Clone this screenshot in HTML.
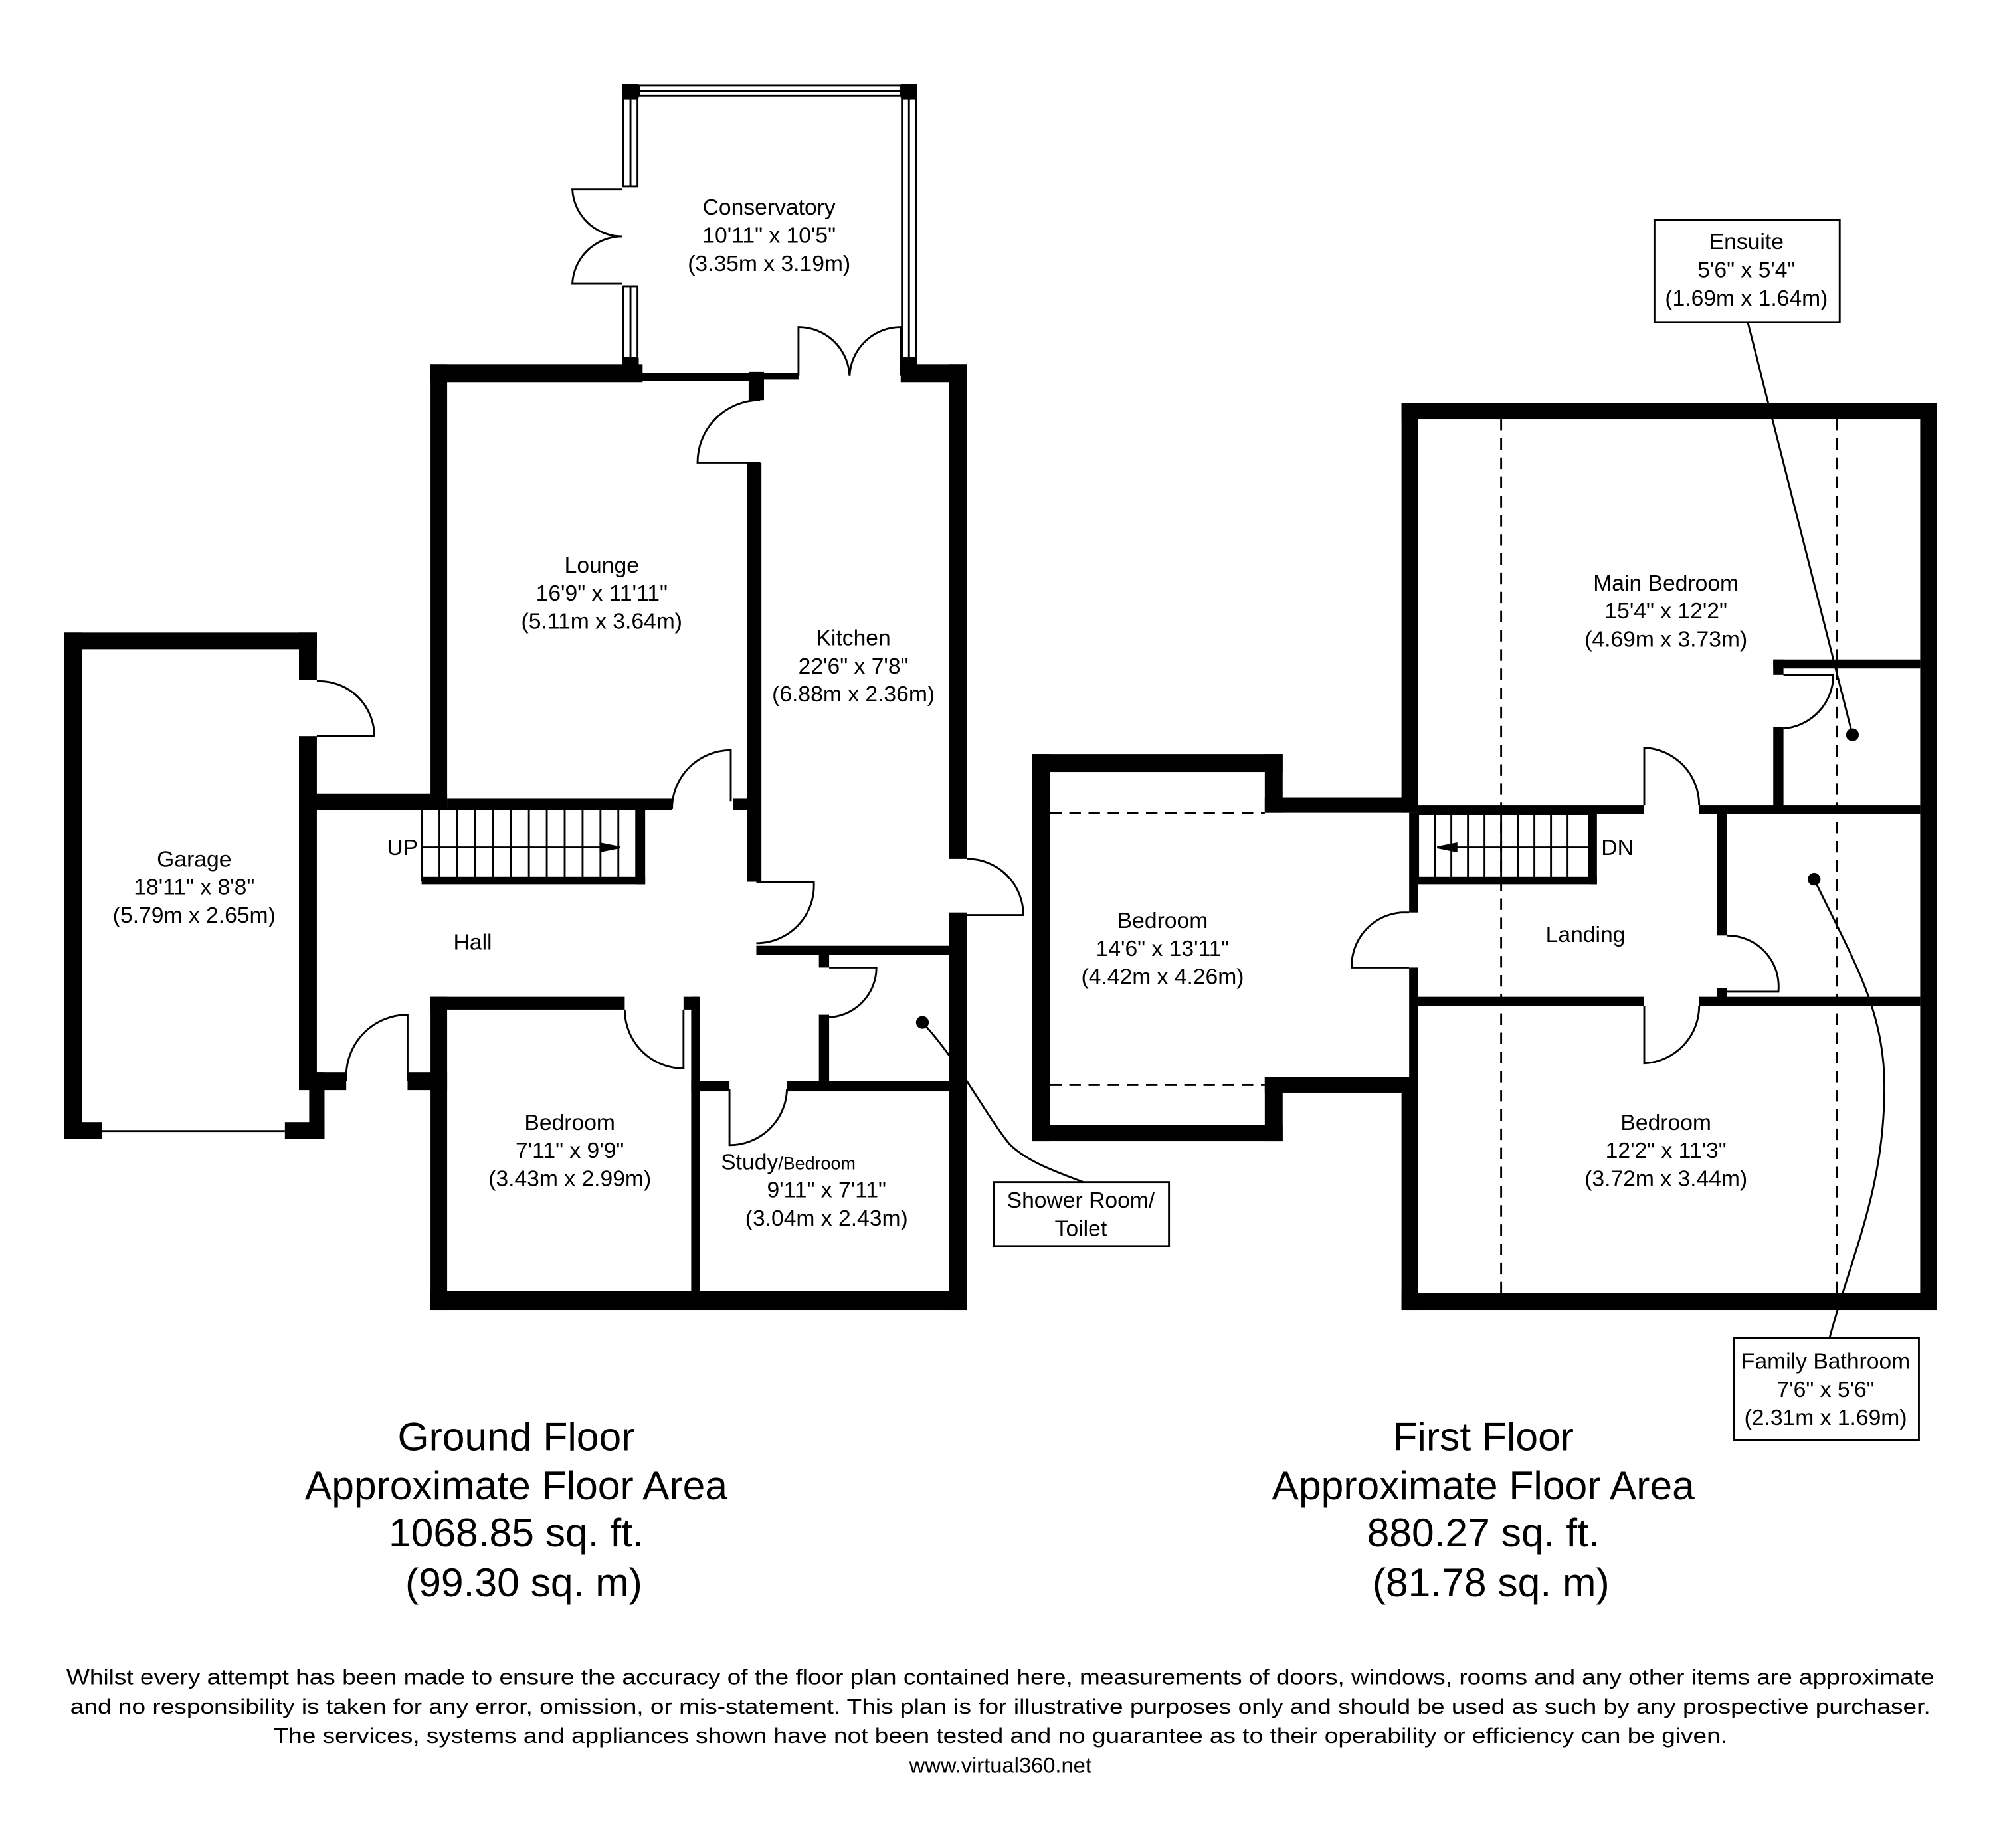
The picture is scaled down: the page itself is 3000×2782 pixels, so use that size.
<!DOCTYPE html>
<html><head><meta charset="utf-8"><style>
html,body{margin:0;padding:0;background:#fff;}
svg{display:block;}
text{font-family:"Liberation Sans",Arial,sans-serif;fill:#000;}
</style></head><body>
<svg width="3000" height="2782" viewBox="0 0 1560 1446" preserveAspectRatio="none" xmlns="http://www.w3.org/2000/svg">
<rect width="1560" height="1446" fill="#fff"/>
<g fill="#000" stroke="none">
<rect x="50" y="495" width="14" height="396"/>
<rect x="50" y="495" width="198" height="13"/>
<rect x="234" y="495" width="14" height="37"/>
<rect x="234" y="576" width="14" height="270"/>
<rect x="234" y="839" width="37" height="14"/>
<rect x="242" y="839" width="12" height="52"/>
<rect x="50" y="878" width="30" height="13"/>
<rect x="223" y="878" width="31" height="13"/>
<rect x="234" y="621" width="116" height="13"/>
<rect x="337" y="285" width="13" height="349"/>
<rect x="337" y="285" width="166" height="14"/>
<rect x="350" y="625" width="176" height="9"/>
<rect x="574" y="625" width="16" height="9"/>
<rect x="500" y="292" width="90" height="6"/>
<rect x="586" y="291" width="12" height="22"/>
<rect x="598" y="292" width="27" height="5"/>
<rect x="705" y="285" width="52" height="14"/>
<rect x="743" y="285" width="14" height="387"/>
<rect x="743" y="714" width="14" height="311"/>
<rect x="585" y="362" width="11" height="328"/>
<rect x="592" y="740" width="160" height="7"/>
<rect x="641" y="747" width="8" height="10"/>
<rect x="641" y="794" width="8" height="56"/>
<rect x="541" y="846" width="30" height="8"/>
<rect x="616" y="846" width="135" height="8"/>
<rect x="337" y="780" width="13" height="245"/>
<rect x="337" y="780" width="152" height="10"/>
<rect x="535" y="780" width="12" height="10"/>
<rect x="541" y="780" width="7" height="235"/>
<rect x="319" y="839" width="31" height="14"/>
<rect x="337" y="1010" width="420" height="15"/>
<rect x="498" y="633" width="7" height="59"/>
<rect x="330" y="686" width="175" height="6"/>
<rect x="487" y="66" width="13" height="11"/>
<rect x="705" y="66" width="13" height="11"/>
<rect x="487" y="280" width="13" height="12"/>
<rect x="705" y="280" width="13" height="12"/>

<rect x="808" y="590" width="196" height="14"/>
<rect x="808" y="590" width="14" height="303"/>
<rect x="808" y="880" width="196" height="13"/>
<rect x="990" y="590" width="14" height="46"/>
<rect x="990" y="843" width="14" height="50"/>
<rect x="990" y="624" width="120" height="12"/>
<rect x="990" y="843" width="120" height="12"/>
<rect x="1097" y="315" width="419" height="13"/>
<rect x="1097" y="315" width="13" height="321"/>
<rect x="1097" y="843" width="13" height="182"/>
<rect x="1503" y="315" width="13" height="710"/>
<rect x="1097" y="1012" width="419" height="13"/>
<rect x="1103" y="636" width="7" height="78"/>
<rect x="1103" y="757" width="7" height="86"/>
<rect x="1110" y="630" width="177" height="7"/>
<rect x="1330" y="630" width="173" height="7"/>
<rect x="1110" y="780" width="177" height="7"/>
<rect x="1330" y="780" width="173" height="7"/>
<rect x="1244" y="636" width="6" height="56"/>
<rect x="1110" y="686" width="140" height="6"/>
<rect x="1344" y="636" width="8" height="96"/>
<rect x="1344" y="773" width="8" height="8"/>
<rect x="1388" y="516" width="115" height="7"/>
<rect x="1388" y="516" width="8" height="12"/>
<rect x="1388" y="569" width="8" height="62"/>
<circle cx="722" cy="800" r="5"/>
<circle cx="1450" cy="575" r="5"/>
<circle cx="1420" cy="688" r="5"/>
</g>

<g fill="none" stroke="#000" stroke-width="1.5">
<line x1="80" y1="885" x2="223" y2="885"/>
<rect x="500" y="67" width="205" height="8"/>
<line x1="500" y1="71" x2="705" y2="71"/>
<rect x="488" y="77" width="11" height="69"/>
<line x1="493.5" y1="77" x2="493.5" y2="146"/>
<rect x="488" y="224" width="11" height="56"/>
<line x1="493.5" y1="224" x2="493.5" y2="280"/>
<rect x="706" y="77" width="11" height="203"/>
<line x1="711.5" y1="77" x2="711.5" y2="280"/>
<path d="M487,148 H448 A39,39 0 0 0 487,185"/>
<path d="M487,222 H448 A39,39 0 0 1 487,185"/>
<path d="M625,294 V256 A40,40 0 0 1 665,294"/>
<path d="M705,294 V256 A40,40 0 0 0 665,294"/>
<path d="M595,362 H546 A49,49 0 0 1 595,313"/>
<path d="M248,533 H250 A43,43 0 0 1 293,576 H248"/>
<path d="M526,633 A46,46 0 0 1 572,587 V627"/>
<path d="M592,738 A45,45 0 0 0 637,690 H592"/>
<path d="M757,672 A44,44 0 0 1 801,716 H757"/>
<path d="M649,757 H686 A39,39 0 0 1 649,796"/>
<path d="M571,852 V896 A45,45 0 0 0 616,852"/>
<path d="M489,790 A46,46 0 0 0 535,836 V790"/>
<path d="M271,846 V842 A48,48 0 0 1 319,794 V846"/>
<rect x="330" y="633" width="168" height="56"/>
<line x1="330" y1="663" x2="485" y2="663"/>
<path d="M470,660 L485,663 L470,666 Z" fill="#000"/>
<path d="M722,800 C750,830 770,870 790,895 C805,910 830,918 848,925"/>
<rect x="778" y="925" width="137" height="50"/>

<path d="M1103,714 H1097 A42,42 0 0 0 1058,757 H1103"/>
<path d="M1287,630 V585 A45,45 0 0 1 1330,630"/>
<path d="M1287,787 V832 A45,45 0 0 0 1330,787"/>
<path d="M1352,732 A40,40 0 0 1 1392,776 H1352"/>
<path d="M1396,528 H1435 A42,42 0 0 1 1396,570"/>
<rect x="1110" y="637" width="134" height="52"/>
<line x1="1125" y1="663" x2="1245" y2="663"/>
<path d="M1140,660 L1125,663 L1140,666 Z" fill="#000"/>
<path d="M1368,252 L1450,575"/>
<path d="M1420,688 C1450,750 1475,790 1475,850 C1475,930 1450,980 1432,1047"/>
<rect x="1295" y="172" width="145" height="80"/>
<rect x="1357" y="1047" width="145" height="80"/>
</g>
<g stroke="#000" stroke-width="1.5" stroke-dasharray="9,6" fill="none">
<line x1="1175" y1="328" x2="1175" y2="1012"/>
<line x1="1438" y1="328" x2="1438" y2="1012"/>
<line x1="822" y1="636" x2="990" y2="636"/>
<line x1="822" y1="849" x2="990" y2="849"/>
</g>
<g fill="#000" stroke="#000" stroke-width="1.5">
<path d="M344,633V689M358,633V689M372,633V689M386,633V689M400,633V689M414,633V689M428,633V689M442,633V689M456,633V689M470,633V689M484,633V689"/>
<path d="M1123,637V689M1136,637V689M1149,637V689M1162,637V689M1175,637V689M1188,637V689M1201,637V689M1214,637V689M1227,637V689"/>
</g>

<g font-size="17.5" text-anchor="middle">
<text x="602" y="168">Conservatory</text>
<text x="602" y="190">10'11" x 10'5"</text>
<text x="602" y="212">(3.35m x 3.19m)</text>
<text x="471" y="448">Lounge</text>
<text x="471" y="470">16'9" x 11'11"</text>
<text x="471" y="492">(5.11m x 3.64m)</text>
<text x="668" y="505">Kitchen</text>
<text x="668" y="527">22'6" x 7'8"</text>
<text x="668" y="549">(6.88m x 2.36m)</text>
<text x="152" y="678">Garage</text>
<text x="152" y="700">18'11" x 8'8"</text>
<text x="152" y="722">(5.79m x 2.65m)</text>
<text x="315" y="669">UP</text>
<text x="370" y="743">Hall</text>
<text x="446" y="884">Bedroom</text>
<text x="446" y="906">7'11" x 9'9"</text>
<text x="446" y="928">(3.43m x 2.99m)</text>
<text x="617" y="915">Study<tspan font-size="14">/Bedroom</tspan></text>
<text x="647" y="937">9'11" x 7'11"</text>
<text x="647" y="959">(3.04m x 2.43m)</text>
<text x="846" y="945">Shower Room/</text>
<text x="846" y="967">Toilet</text>
<text x="1367" y="195">Ensuite</text>
<text x="1367" y="217">5'6" x 5'4"</text>
<text x="1367" y="239">(1.69m x 1.64m)</text>
<text x="1304" y="462">Main Bedroom</text>
<text x="1304" y="484">15'4" x 12'2"</text>
<text x="1304" y="506">(4.69m x 3.73m)</text>
<text x="1266" y="669">DN</text>
<text x="1241" y="737">Landing</text>
<text x="910" y="726">Bedroom</text>
<text x="910" y="748">14'6" x 13'11"</text>
<text x="910" y="770">(4.42m x 4.26m)</text>
<text x="1304" y="884">Bedroom</text>
<text x="1304" y="906">12'2" x 11'3"</text>
<text x="1304" y="928">(3.72m x 3.44m)</text>
<text x="1429" y="1071">Family Bathroom</text>
<text x="1429" y="1093">7'6" x 5'6"</text>
<text x="1429" y="1115">(2.31m x 1.69m)</text>
</g>
<g font-size="31.5" text-anchor="middle">
<text x="404" y="1135">Ground Floor</text>
<text x="404" y="1173">Approximate Floor Area</text>
<text x="404" y="1210">1068.85 sq. ft.</text>
<text x="410" y="1249">(99.30 sq. m)</text>
<text x="1161" y="1135">First Floor</text>
<text x="1161" y="1173">Approximate Floor Area</text>
<text x="1161" y="1210">880.27 sq. ft.</text>
<text x="1167" y="1249">(81.78 sq. m)</text>
</g>
<g font-size="17" text-anchor="middle">
<text x="783" y="1318" textLength="1462" lengthAdjust="spacingAndGlyphs">Whilst every attempt has been made to ensure the accuracy of the floor plan contained here, measurements of doors, windows, rooms and any other items are approximate</text>
<text x="783" y="1341" textLength="1456" lengthAdjust="spacingAndGlyphs">and no responsibility is taken for any error, omission, or mis-statement. This plan is for illustrative purposes only and should be used as such by any prospective purchaser.</text>
<text x="783" y="1364" textLength="1138" lengthAdjust="spacingAndGlyphs">The services, systems and appliances shown have not been tested and no guarantee as to their operability or efficiency can be given.</text>
<text x="783" y="1387">www.virtual360.net</text>
</g>
</svg>
</body></html>
